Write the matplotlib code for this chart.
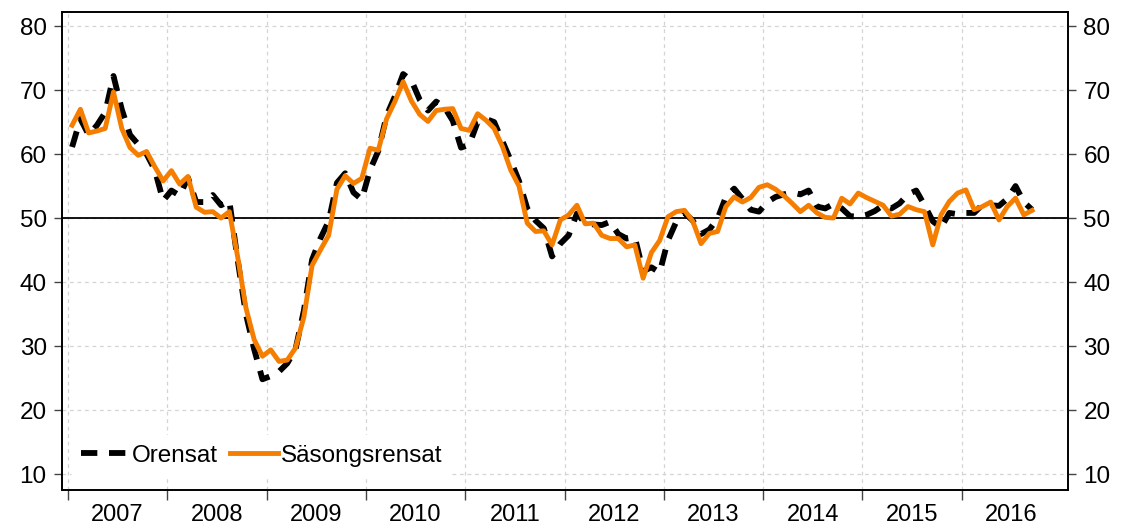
import numpy as np
import matplotlib
matplotlib.use("Agg")
import matplotlib.pyplot as plt
from matplotlib.ticker import FixedLocator, NullFormatter, FixedFormatter

plt.rcParams['font.family'] = ['Liberation Sans', 'DejaVu Sans']

# -- DATA -- monthly, Jan 2007 .. Sep 2016
start_year = 2007

sasongsrensat = [
    64.5, 67.0, 63.3, 63.6, 64.0, 69.7, 64.0, 61.0, 59.8, 60.4, 58.0, 55.8,
    57.4, 55.3, 56.5, 51.7, 50.9, 51.0, 50.0, 51.0, 44.0, 36.0, 31.0, 28.4,
    29.4, 27.6, 27.8, 29.7, 34.5, 42.6, 45.0, 47.3, 54.5, 56.6, 55.4, 56.2,
    60.9, 60.6, 65.5, 68.2, 71.3, 68.3, 66.2, 65.1, 66.8, 67.0, 67.1, 64.0,
    63.7, 66.3, 65.3, 64.0, 61.2, 57.5, 55.0, 49.2, 47.9, 48.0, 45.8, 49.7,
    50.5, 52.0, 49.1, 49.2, 47.3, 46.8, 46.8, 45.5, 45.8, 40.6, 44.6, 46.5,
    50.2, 51.0, 51.2, 49.5, 46.0, 47.6, 47.9, 51.8, 53.3, 52.5, 53.2, 54.8,
    55.2, 54.5, 53.5, 52.3, 51.0, 52.0, 50.8, 50.1, 50.0, 53.1, 52.2, 53.9,
    53.2, 52.6, 52.0, 50.3, 50.6, 51.8, 51.3, 51.0, 45.8, 50.5, 52.6, 53.9,
    54.4, 51.3, 51.8, 52.5, 49.7, 51.8, 53.1, 50.5, 51.2,
]

orensat = [
    61.1, 65.5, 63.0, 64.5, 66.5, 72.2, 67.0, 63.0, 61.5, 60.0, 57.5, 52.7,
    54.3, 53.5, 56.3, 52.5, 52.5, 53.6, 52.0, 52.7, 43.5, 35.0, 29.5, 24.8,
    25.3, 26.0, 27.3, 29.5, 35.5, 43.5, 46.8, 49.5, 55.5, 57.0, 54.0, 52.9,
    57.5, 60.5, 66.0, 69.0, 72.5, 71.5, 68.5, 66.8, 68.2, 67.3, 65.2, 61.0,
    61.5, 65.0, 65.5, 65.0, 62.0, 59.0, 55.8, 51.5, 49.6, 48.4, 44.0, 46.0,
    47.3, 50.7, 49.2, 49.0, 48.9, 49.4, 47.5, 46.8, 47.0, 41.7, 42.3, 41.5,
    46.5, 49.4, 50.8, 49.6, 47.5, 48.2, 49.9, 53.3, 54.6, 53.0, 51.3, 51.0,
    52.5, 53.3, 53.7, 54.0, 53.7, 54.3, 51.8, 51.5, 52.2, 51.5, 50.3, 50.2,
    50.5, 51.1, 52.0, 51.5, 52.3, 53.7, 54.3, 52.0, 49.5, 48.5, 50.8, 50.6,
    50.8, 50.8, 52.1, 52.0, 51.9, 53.0, 55.0, 52.5, 51.3,
]

years = list(range(2007, 2017))
yticks = [10, 20, 30, 40, 50, 60, 70, 80]

t = start_year + (np.arange(len(sasongsrensat)) + 0.5) / 12.0

fig = plt.figure(figsize=(11.21, 5.26), dpi=100)
ax = fig.add_axes([62 / 1121, 1 - 490 / 526, (1068 - 62) / 1121, (490 - 12) / 526])

orange = '#F57D00'

ax.axhline(50, color='black', lw=1.3, zorder=2)
ax.plot(t, orensat, color='black', lw=4.2, dashes=(2.8, 2.0), label='Orensat', zorder=3)
ax.plot(t, sasongsrensat, color=orange, lw=3.5, label='Säsongsrensat', zorder=4)

ax.set_xlim(2006.94, 2017.07)
ax.set_ylim(7.5, 82.2)

# x axis: ticks at year boundaries, labels centred in each year
ax.xaxis.set_major_locator(FixedLocator(years))
ax.xaxis.set_major_formatter(NullFormatter())
ax.xaxis.set_minor_locator(FixedLocator([y + 0.5 for y in years]))
ax.xaxis.set_minor_formatter(FixedFormatter([str(y) for y in years]))
ax.tick_params(axis='x', which='major', direction='out', length=7, width=1, color='#444444')
ax.tick_params(axis='x', which='minor', length=0, pad=10, labelsize=17)

ax.set_yticks(yticks)
ax.tick_params(axis='y', which='major', direction='out', length=6, width=1, color='#444444',
               labelsize=17.5, left=True, right=True, labelleft=True, labelright=True, pad=5)

ax.grid(True, which='major', color='#d4d4d4', linestyle=(0, (3, 3)), lw=0.9, zorder=0)
ax.set_axisbelow(True)

for s in ax.spines.values():
    s.set_linewidth(1.4)
    s.set_color('black')

leg = ax.legend(loc='lower left', ncol=2, frameon=True, fontsize=17.5, handlelength=2.0,
                columnspacing=0.5, handletextpad=0.1, borderaxespad=0.2,
                bbox_to_anchor=(0.004, 0.018))
leg.get_frame().set_facecolor('white')
leg.get_frame().set_edgecolor('none')
leg.get_frame().set_alpha(1)

fig.savefig('out.png', dpi=100)
